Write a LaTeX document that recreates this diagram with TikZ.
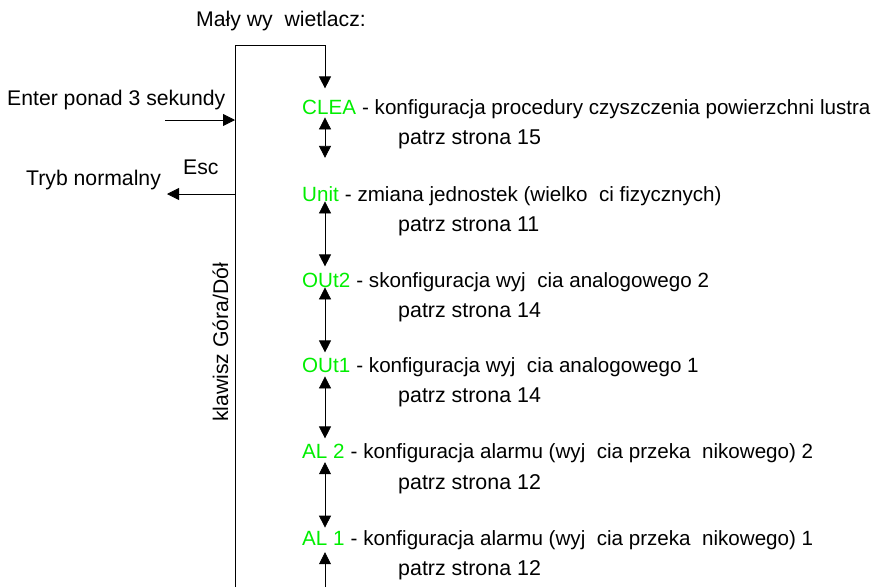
\documentclass[tikz,border=0pt]{standalone}
\usepackage{fontspec}
\setmainfont{Liberation Sans}
\usepackage{tikz}
\usetikzlibrary{arrows.meta}
\definecolor{greenx}{HTML}{00EE00}
\tikzset{
  ar/.style={-{Triangle[length=12pt,width=12pt]},line width=0.8pt},
  dar/.style={{Triangle[length=12pt,width=12pt]}-{Triangle[length=12pt,width=12pt]},line width=0.8pt},
  lbl/.style={inner sep=0pt,anchor=base west,font=\fontsize{20.6}{24}\selectfont},
  side/.style={lbl,font=\fontsize{21.2}{25}\selectfont},
  page/.style={lbl,font=\fontsize{21.4}{25}\selectfont},
  code/.style={lbl,text=greenx}
}

\begin{document}
\begin{tikzpicture}[x=1pt,y=-1pt]
\useasboundingbox (0,0) rectangle (891,587);
% left side
\node[side] (title) at (196,26) {Mały wy\ \ wietlacz:};
\node[side] (enter) at (7,105) {Enter ponad 3 sekundy};
\node[side] (esc) at (183,174) {Esc};
\node[side] (tryb) at (26,185) {Tryb normalny};
\node[side,rotate=90] (keys) at (228,422) {klawisz Góra/Dół};
\coordinate (bustop) at (235,45);
\coordinate (busbot) at (235,587);
\coordinate (col) at (325,45);
\coordinate (enterin) at (165,120);
\coordinate (escout) at (167,194);
\draw[line width=0.8pt] (busbot) -- (bustop);
\draw[ar] (enterin) -- (enterin -| bustop);
\draw[ar] (escout -| bustop) -- (escout);
% menu items
\node[code] (clea) at (302,114) {CLEA};
\node[lbl] (cleatxt) at (clea.base east) {\ - konfiguracja procedury czyszczenia powierzchni lustra};
\node[page] (cleapg) at (398,144) {patrz strona 15};
\node[code] (unit) at (302,201) {Unit};
\node[lbl] (unittxt) at (unit.base east) {\ - zmiana jednostek (wielko\ \ ci fizycznych)};
\node[page] (unitpg) at (398,231) {patrz strona 11};
\node[code] (out2) at (302,287) {OUt2};
\node[lbl] (out2txt) at (out2.base east) {\ - skonfiguracja wyj\ \ cia analogowego 2};
\node[page] (out2pg) at (398,317) {patrz strona 14};
\node[code] (out1) at (302,372) {OUt1};
\node[lbl] (out1txt) at (out1.base east) {\ - konfiguracja wyj\ \ cia analogowego 1};
\node[page] (out1pg) at (398,402) {patrz strona 14};
\node[code] (al2) at (302,458) {AL 2};
\node[lbl] (al2txt) at (al2.base east) {\ - konfiguracja alarmu (wyj\ \ cia przeka\ \ nikowego) 2};
\node[page] (al2pg) at (398,489) {patrz strona 12};
\node[code] (al1) at (302,545) {AL 1};
\node[lbl] (al1txt) at (al1.base east) {\ - konfiguracja alarmu (wyj\ \ cia przeka\ \ nikowego) 1};
\node[page] (al1pg) at (398,575) {patrz strona 12};
% up/down arrows
\draw[ar,shorten >=11pt] (bustop) -- (col) -- (col |- clea.north);
\draw[dar,shorten <=3pt,shorten >=28pt] (col |- clea.south) -- (col |- unit.north);
\draw[dar,shorten >=6pt] (col |- unit.south) -- (col |- out2.north);
\draw[dar,shorten >=5pt] (col |- out2.south) -- (col |- out1.north);
\draw[dar,shorten <=4pt,shorten >=5pt] (col |- out1.south) -- (col |- al2.north);
\draw[dar,shorten <=4pt,shorten >=3pt] (col |- al2.south) -- (col |- al1.north);
\draw[ar,shorten >=7pt] (col |- busbot) -- (col |- al1.south);
\end{tikzpicture}
\end{document}
